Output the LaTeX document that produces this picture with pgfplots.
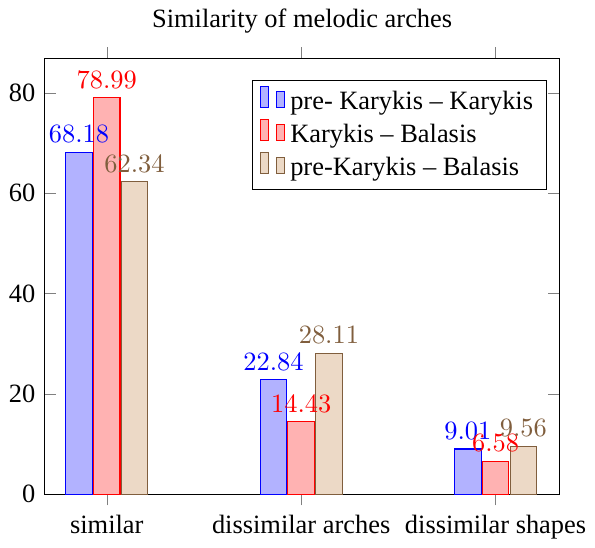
\documentclass[border=0pt]{standalone}
\usepackage{fontspec}
\setmainfont{Liberation Serif}
\usepackage{pgfplots}
\pgfplotsset{compat=1.18}
\definecolor{dbrown}{rgb}{0.5,0.37,0.24}
\begin{document}
\begin{tikzpicture}
\begin{axis}[
  scale only axis,
  width=195pt, height=165pt,
  ybar=0.5pt,
  bar width=10pt,
  title={Similarity of melodic arches},
  xmin=-0.32, xmax=2.33,
  ymin=0, ymax=86.9,
  xtick={0,1,2},
  xticklabels={similar,dissimilar arches,dissimilar shapes},
  xtick align=outside,
  ytick={0,20,40,60,80},
  yticklabel={\pgfmathprintnumber[assume math mode=true]{\tick}},
  nodes near coords,
  every node near coord/.append style={font=\normalsize},
  legend style={at={(0.975,0.95)}, anchor=north east, legend cell align=left},
]
\addplot[draw=blue, fill=blue!30, nodes near coords style={blue}] coordinates {(0,68.18) (1,22.84) (2,9.01)};
\addplot[draw=red, fill=red!30, nodes near coords style={red}] coordinates {(0,78.99) (1,14.43) (2,6.58)};
\addplot[draw=dbrown, fill=brown!30, nodes near coords style={dbrown}] coordinates {(0,62.34) (1,28.11) (2,9.56)};
\legend{pre- Karykis -- Karykis, Karykis -- Balasis, pre-Karykis -- Balasis}
\end{axis}
\end{tikzpicture}
\end{document}
